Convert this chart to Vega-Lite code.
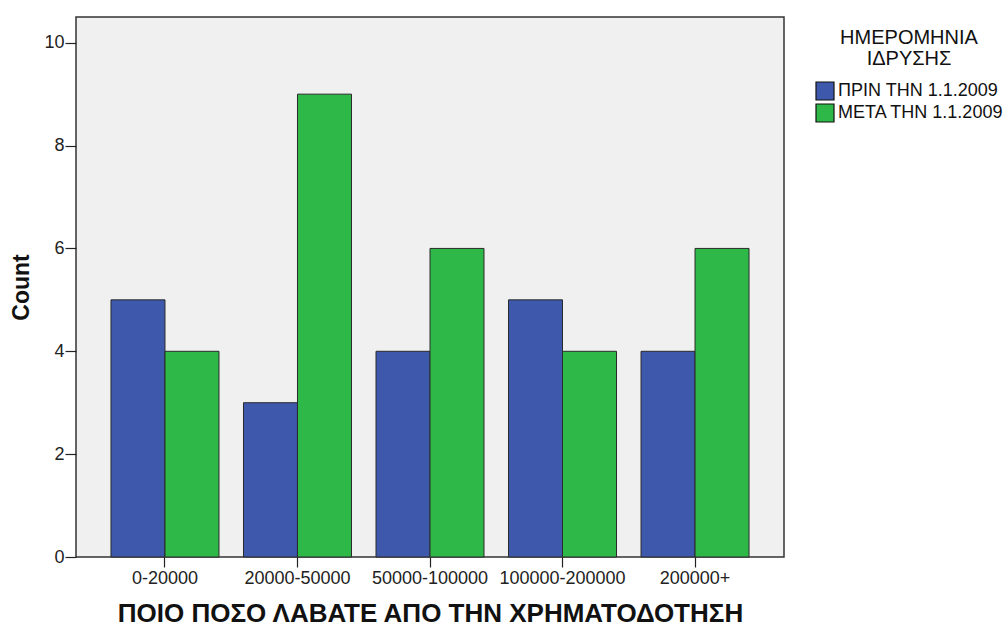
{
  "$schema": "https://vega.github.io/schema/vega-lite/v6.json",
  "width": 708,
  "height": 540,
  "autosize": "none",
  "padding": {"left": 76, "top": 17, "right": 222, "bottom": 69},
  "background": "white",
  "config": {
    "font": "Liberation Sans",
    "view": {"fill": "#f0f0f0", "stroke": "#333333", "strokeWidth": 1.5},
    "axis": {"grid": false, "domain": false, "labelFont": "Liberation Sans", "titleFont": "Liberation Sans", "labelColor": "#222222", "titleColor": "#111111", "tickColor": "#222222", "tickWidth": 1.2}
  },
  "data": {
    "values": [
      {"range": "0-20000", "group": "ΠΡΙΝ ΤΗΝ 1.1.2009", "count": 5},
      {"range": "0-20000", "group": "ΜΕΤΑ ΤΗΝ 1.1.2009", "count": 4},
      {"range": "20000-50000", "group": "ΠΡΙΝ ΤΗΝ 1.1.2009", "count": 3},
      {"range": "20000-50000", "group": "ΜΕΤΑ ΤΗΝ 1.1.2009", "count": 9},
      {"range": "50000-100000", "group": "ΠΡΙΝ ΤΗΝ 1.1.2009", "count": 4},
      {"range": "50000-100000", "group": "ΜΕΤΑ ΤΗΝ 1.1.2009", "count": 6},
      {"range": "100000-200000", "group": "ΠΡΙΝ ΤΗΝ 1.1.2009", "count": 5},
      {"range": "100000-200000", "group": "ΜΕΤΑ ΤΗΝ 1.1.2009", "count": 4},
      {"range": "200000+", "group": "ΠΡΙΝ ΤΗΝ 1.1.2009", "count": 4},
      {"range": "200000+", "group": "ΜΕΤΑ ΤΗΝ 1.1.2009", "count": 6}
    ]
  },
  "mark": {"type": "bar", "stroke": "#2a2a2a", "strokeWidth": 1},
  "encoding": {
    "x": {
      "field": "range", "type": "nominal",
      "sort": ["0-20000", "20000-50000", "50000-100000", "100000-200000", "200000+"],
      "scale": {"paddingInner": 0.185, "paddingOuter": 0.264},
      "axis": {"title": "ΠΟΙΟ ΠΟΣΟ ΛΑΒΑΤΕ ΑΠΟ ΤΗΝ ΧΡΗΜΑΤΟΔΟΤΗΣΗ", "labelAngle": 0, "labelFontSize": 18, "labelPadding": 2, "tickSize": 10, "labelOverlap": false, "titleFontSize": 26, "titleFontWeight": "bold", "titlePadding": 13}
    },
    "xOffset": {
      "field": "group", "type": "nominal",
      "sort": ["ΠΡΙΝ ΤΗΝ 1.1.2009", "ΜΕΤΑ ΤΗΝ 1.1.2009"],
      "scale": {"paddingInner": 0, "paddingOuter": 0}
    },
    "y": {
      "field": "count", "type": "quantitative",
      "scale": {"domain": [0, 10.5], "nice": false},
      "axis": {"title": "Count", "values": [0, 2, 4, 6, 8, 10], "labelFontSize": 18, "tickSize": 11, "labelPadding": 1, "titleFontSize": 23, "titleFontWeight": "bold", "titlePadding": 10}
    },
    "color": {
      "field": "group", "type": "nominal",
      "sort": ["ΠΡΙΝ ΤΗΝ 1.1.2009", "ΜΕΤΑ ΤΗΝ 1.1.2009"],
      "scale": {"range": ["#3e58ac", "#2eb848"]},
      "legend": {
        "title": ["ΗΜΕΡΟΜΗΝΙΑ", "ΙΔΡΥΣΗΣ"],
        "orient": "none", "legendX": 739, "legendY": 11,
        "titleFontSize": 20, "titleFontWeight": "normal", "titleColor": "#111111",
        "titleAnchor": "middle", "titleAlign": "center", "titleLineHeight": 21, "titlePadding": 12, "titleLimit": 0,
        "labelFontSize": 18, "labelColor": "#111111", "labelOffset": 3, "labelLimit": 0,
        "symbolType": "square", "symbolSize": 324, "symbolStrokeColor": "#111111", "symbolStrokeWidth": 1.2, "symbolOpacity": 1,
        "rowPadding": -2
      }
    }
  }
}
